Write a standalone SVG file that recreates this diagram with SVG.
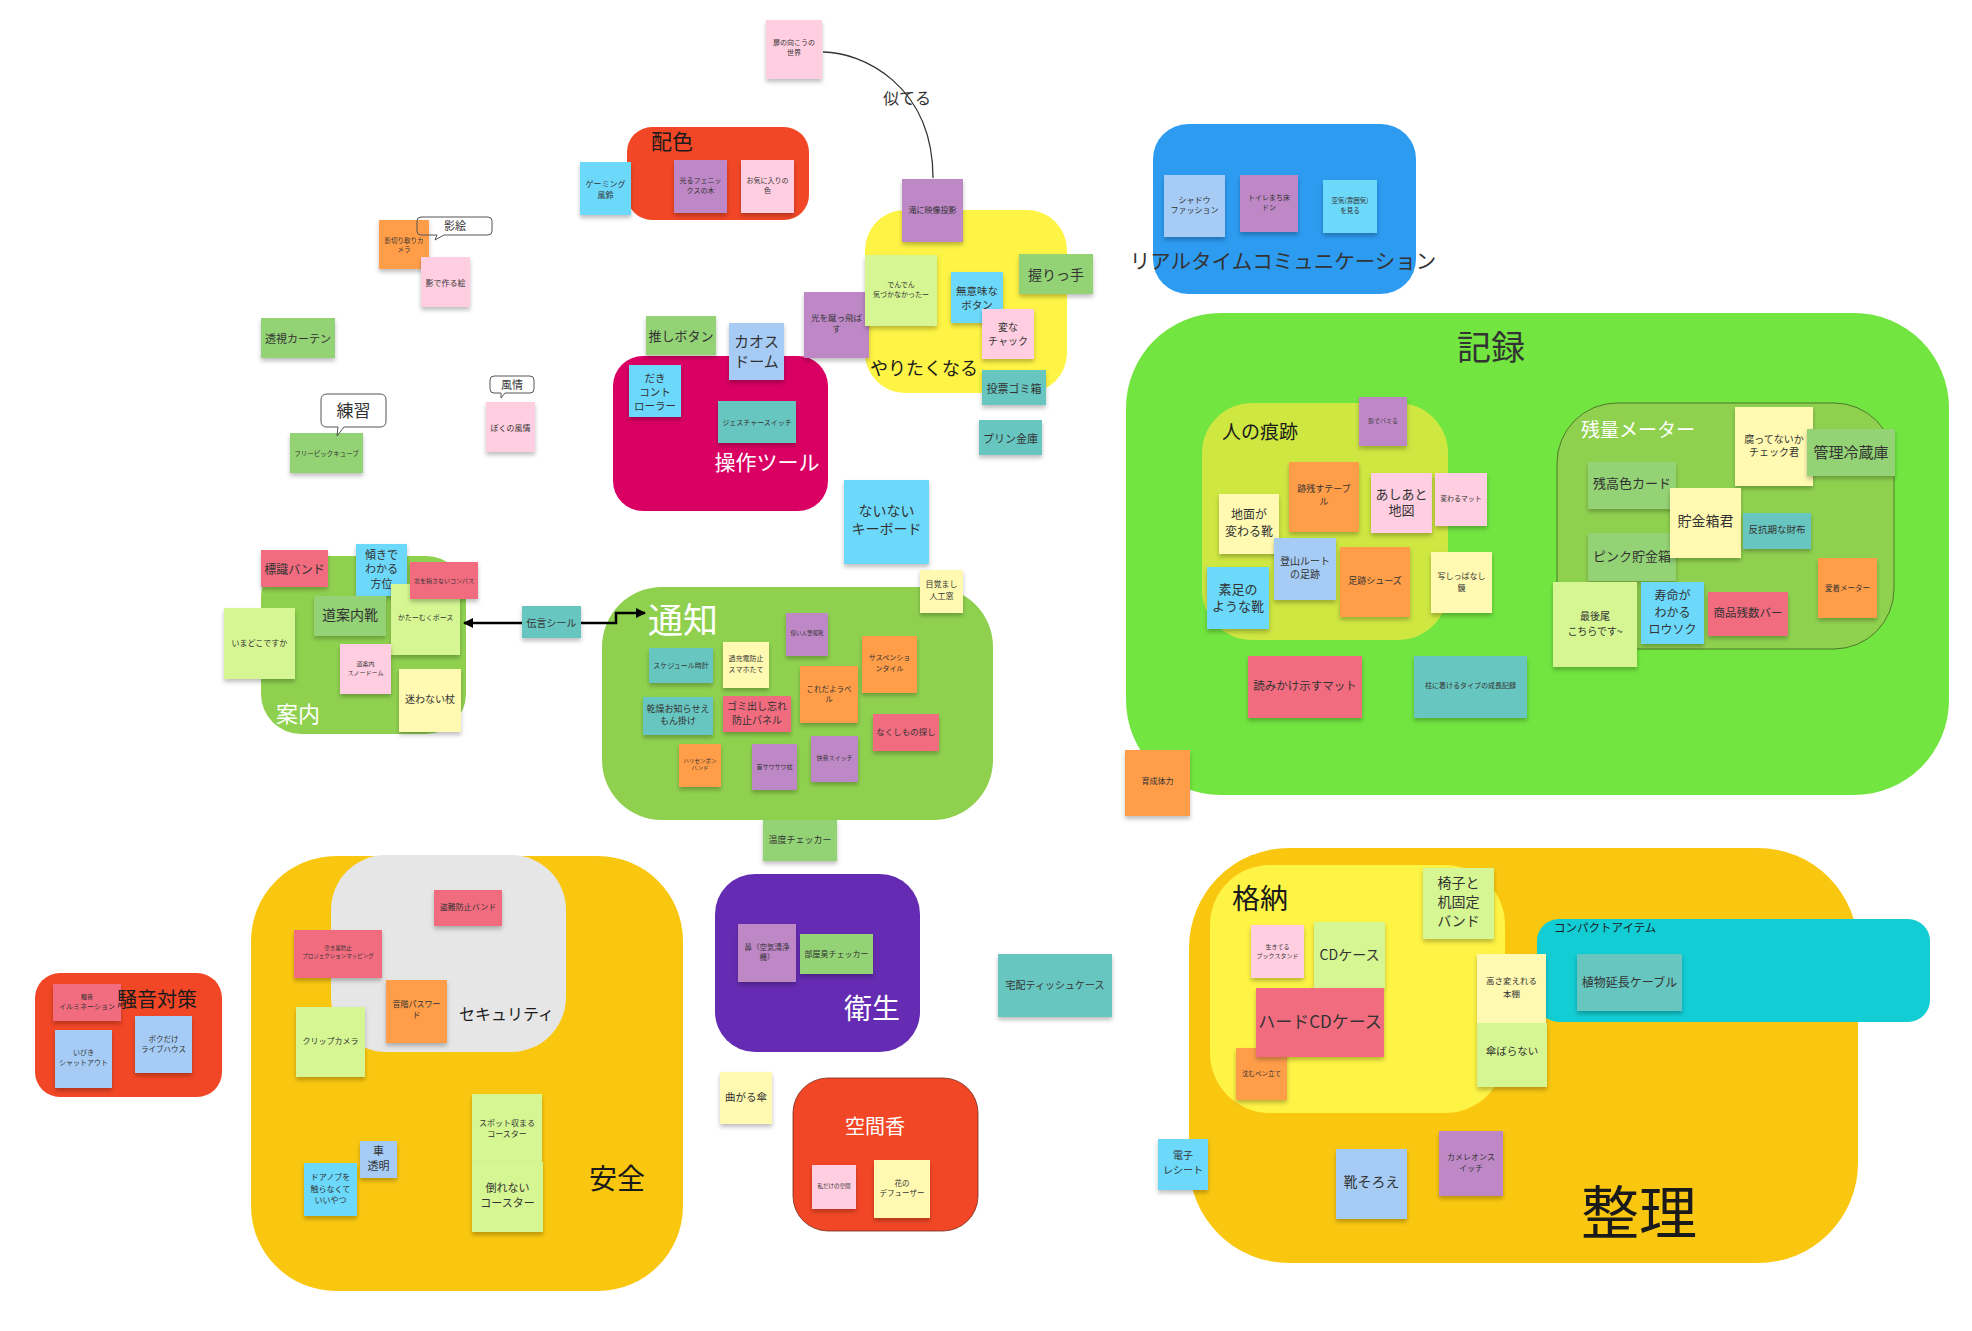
<svg xmlns="http://www.w3.org/2000/svg" width="1972" height="1331" viewBox="0 0 1972 1331">
<defs>
<filter id="sh" x="-15%" y="-15%" width="130%" height="140%"><feDropShadow dx="0" dy="3" stdDeviation="2" flood-color="#000" flood-opacity="0.25"/></filter>
<marker id="ah" viewBox="0 0 10 10" refX="9" refY="5" markerWidth="4" markerHeight="4" orient="auto-start-reverse"><path d="M0,0 L10,5 L0,10 z" fill="#000"/></marker>
<style>
text{font-family:"Noto Sans CJK JP","Noto Sans",sans-serif;text-anchor:middle;dominant-baseline:central;fill:#333}
.lbl{text-anchor:start;fill:#1a1a1a}
.wl{fill:#fff}
.s{filter:url(#sh)}
.ly{fill:#fff9b1}.lg{fill:#d5f692}.g{fill:#93d275}.tl{fill:#67c6c0}.b{fill:#6cd8fa}.lb{fill:#a6ccf5}.pk{fill:#ffcee0}.pu{fill:#be88c7}.o{fill:#ff9d48}.r{fill:#f16c7f}
.co{fill:none;stroke:#555;stroke-width:1}
.f55{font-size:5.5px}.f6{font-size:6px}.f65{font-size:6.5px}.f7{font-size:7px}.f75{font-size:7.5px}.f8{font-size:8px}.f85{font-size:8.5px}.f9{font-size:9px}.f95{font-size:9.5px}.f10{font-size:10px}.f105{font-size:10.5px}.f11{font-size:11px}.f115{font-size:11.5px}.f12{font-size:12px}.f13{font-size:13px}.f14{font-size:14px}.f15{font-size:15px}.f17{font-size:17px}
</style>
</defs>
<rect width="1972" height="1331" fill="#fff"/>

<g id="groups">
<g id="g-haishoku"><rect x="627" y="127" width="182" height="93" rx="25" fill="#f24726"/><text class="lbl" x="651" y="140" font-size="21">配色</text></g>
<g id="g-sousa"><rect x="613" y="356" width="215" height="155" rx="30" fill="#da0063"/><text class="wl" x="767" y="461" font-size="21">操作ツール</text></g>
<g id="g-yaritaku"><rect x="865" y="210" width="202" height="183" rx="40" fill="#fef445"/><text class="lbl" x="870" y="367" font-size="18">やりたくなる</text></g>
<g id="g-realtime"><rect x="1153" y="124" width="263" height="170" rx="35" fill="#2d9bf0"/><text x="1283" y="260" font-size="20.5" fill="#1a1a1a">リアルタイムコミュニケーション</text></g>
<g id="g-kiroku"><rect x="1126" y="313" width="823" height="482" rx="95" fill="#72e540"/><text x="1491" y="345" font-size="34" fill="#1a1a1a">記録</text></g>
<g id="g-hitono"><rect x="1202" y="403" width="246" height="237" rx="50" fill="#cee741"/><text class="lbl" x="1222" y="430" font-size="19">人の痕跡</text></g>
<g id="g-zanryou"><rect x="1557" y="403" width="337" height="246" rx="60" fill="#8fd14f" stroke="#4a7a2a" stroke-width="1"/><text class="wl" x="1581" y="428" font-size="19" style="text-anchor:start">残量メーター</text></g>
<g id="g-annai"><rect x="261" y="556" width="205" height="178" rx="40" fill="#8fd14f"/><text class="wl" x="276" y="712" font-size="22" style="text-anchor:start">案内</text></g>
<g id="g-tsuuchi"><rect x="602" y="587" width="391" height="233" rx="60" fill="#8fd14f"/><text class="wl" x="648" y="617" font-size="35" style="text-anchor:start">通知</text></g>
<g id="g-souon"><rect x="35" y="973" width="187" height="124" rx="25" fill="#f24726"/></g>
<g id="g-anzen"><rect x="251" y="856" width="432" height="435" rx="85" fill="#fac710"/><text class="lbl" x="589" y="1177" font-size="28">安全</text></g>
<g id="g-security"><rect x="331" y="855" width="235" height="197" rx="55" fill="#e6e6e6"/><text class="lbl" x="459" y="1013" font-size="16">セキュリティ</text></g>
<g id="g-eisei"><rect x="715" y="874" width="205" height="178" rx="40" fill="#652cb3"/><text class="wl" x="844" y="1007" font-size="28" style="text-anchor:start">衛生</text></g>
<g id="g-kuukan"><rect x="793" y="1078" width="185" height="153" rx="35" fill="#f24726" stroke="#7a2a1a" stroke-width="0.8"/><text class="wl" x="875" y="1125" font-size="20">空間香</text></g>
<g id="g-seiri"><rect x="1189" y="848" width="669" height="415" rx="100" fill="#fac710"/><text class="lbl" x="1581" y="1209" font-size="58">整理</text></g>
<g id="g-kakunou"><rect x="1210" y="865" width="295" height="248" rx="60" fill="#fef445"/><text class="lbl" x="1232" y="897" font-size="28">格納</text></g>
<g id="g-compact"><rect x="1537" y="919" width="393" height="103" rx="22" fill="#12cdd4"/><text class="lbl" x="1554" y="927" font-size="11.5">コンパクトアイテム</text></g>
</g>

<g id="notes">
<g id="n-gaming"><rect class="s b" x="580" y="162" width="51" height="53"/><text class="f8"><tspan x="605.5" y="183">ゲーミング</tspan><tspan x="605.5" y="194">風鈴</tspan></text></g>
<g id="n-kagekiri"><rect class="s o" x="379" y="220" width="50" height="49"/><text class="f65"><tspan x="404" y="240">影切り取りカ</tspan><tspan x="404" y="249">メラ</tspan></text></g>
<g id="n-kagee"><rect class="s pk" x="421" y="257" width="49" height="50"/><text class="f8" x="445.5" y="282">影で作る絵</text></g>
<g id="n-toushi"><rect class="s g" x="261" y="318" width="74" height="40"/><text class="f11" x="298" y="338">透視カーテン</text></g>
<g id="n-free"><rect class="s g" x="290" y="433" width="73" height="40"/><text class="f65" x="326.5" y="453">フリーピックキューブ</text></g>
<g id="n-bokuno"><rect class="s pk" x="486" y="402" width="49" height="50"/><text class="f8" x="510.5" y="427">ぼくの風情</text></g>
<g id="n-tobira"><rect class="s pk" x="766" y="20" width="56" height="59"/><text class="f7"><tspan x="794" y="42">扉の向こうの</tspan><tspan x="794" y="52">世界</tspan></text></g>
<g id="n-phoenix"><rect class="s pu" x="674" y="160" width="53" height="53"/><text class="f7"><tspan x="700.5" y="180">光るフェニッ</tspan><tspan x="700.5" y="190">クスの木</tspan></text></g>
<g id="n-okiniiri"><rect class="s pk" x="741" y="160" width="53" height="53"/><text class="f7"><tspan x="767.5" y="180">お気に入りの</tspan><tspan x="767.5" y="190">色</tspan></text></g>
<g id="n-taki"><rect class="s pu" x="902" y="179" width="61" height="63"/><text class="f8" x="932.5" y="209">滝に映像投影</text></g>
<g id="n-hikari"><rect class="s pu" x="804" y="292" width="65" height="66"/><text class="f85"><tspan x="836.5" y="317">光を蹴っ飛ば</tspan><tspan x="836.5" y="328">す</tspan></text></g>
<g id="n-denden"><rect class="s lg" x="865" y="255" width="72" height="71"/><text class="f7"><tspan x="901" y="284">でんでん</tspan><tspan x="901" y="294">気づかなかったー</tspan></text></g>
<g id="n-muimi"><rect class="s b" x="951" y="272" width="52" height="51"/><text class="f105"><tspan x="977" y="290">無意味な</tspan><tspan x="977" y="304">ボタン</tspan></text></g>
<g id="n-henna"><rect class="s pk" x="982" y="309" width="52" height="50"/><text class="f10"><tspan x="1008" y="326">変な</tspan><tspan x="1008" y="340">チャック</tspan></text></g>
<g id="n-nigiri"><rect class="s g" x="1019" y="254" width="74" height="40"/><text class="f14" x="1056" y="274">握りっ手</text></g>
<g id="n-touhyou"><rect class="s tl" x="982" y="370" width="64" height="35"/><text class="f11" x="1014" y="387.5">投票ゴミ箱</text></g>
<g id="n-purin"><rect class="s tl" x="979" y="420" width="63" height="35"/><text class="f11" x="1010.5" y="437.5">プリン金庫</text></g>
<g id="n-oshi"><rect class="s g" x="646" y="316" width="70" height="39"/><text class="f13" x="681" y="335.5">推しボタン</text></g>
<g id="n-daki"><rect class="s b" x="629" y="365" width="52" height="52"/><text class="f105"><tspan x="655" y="377">だき</tspan><tspan x="655" y="391">コント</tspan><tspan x="655" y="405">ローラー</tspan></text></g>
<g id="n-chaos"><rect class="s lb" x="729" y="323" width="55" height="57"/><text class="f15"><tspan x="756.5" y="340">カオス</tspan><tspan x="756.5" y="360">ドーム</tspan></text></g>
<g id="n-gesture"><rect class="s tl" x="718" y="401" width="78" height="42"/><text class="f7" x="757" y="422">ジェスチャースイッチ</text></g>
<g id="n-shadow"><rect class="s lb" x="1164" y="175" width="61" height="62"/><text class="f8"><tspan x="1194.5" y="199">シャドウ</tspan><tspan x="1194.5" y="209">ファッション</tspan></text></g>
<g id="n-toire"><rect class="s pu" x="1240" y="175" width="58" height="57"/><text class="f7"><tspan x="1269" y="197">トイレまち床</tspan><tspan x="1269" y="207">ドン</tspan></text></g>
<g id="n-kuuki"><rect class="s b" x="1323" y="180" width="54" height="53"/><text class="f65"><tspan x="1350" y="200">空気(雰囲気)</tspan><tspan x="1350" y="210">を見る</tspan></text></g>
<g id="n-nainai"><rect class="s b" x="844" y="480" width="85" height="84"/><text class="f14"><tspan x="886.5" y="510">ないない</tspan><tspan x="886.5" y="528">キーボード</tspan></text></g>

<g id="n-hyoushiki"><rect class="s r" x="261" y="550" width="67" height="37"/><text class="f12" x="294.5" y="568.5">標識バンド</text></g>
<g id="n-katamuki"><rect class="s b" x="356" y="544" width="51" height="52"/><text class="f11"><tspan x="381.5" y="554">傾きで</tspan><tspan x="381.5" y="568">わかる</tspan><tspan x="381.5" y="583">方位</tspan></text></g>
<g id="n-michi"><rect class="s g" x="314" y="596" width="72" height="40"/><text class="f14" x="350" y="614">道案内靴</text></g>
<g id="n-katamuku"><rect class="s lg" x="391" y="584" width="69" height="71"/><text class="f7" x="425.5" y="617">かたーむくポース</text></g>
<g id="n-kita"><rect class="s r" x="410" y="562" width="68" height="37"/><text class="f6" x="444" y="580">北を指さないコンパス</text></g>
<g id="n-imadoko"><rect class="s lg" x="224" y="608" width="71" height="71"/><text class="f8" x="259.5" y="642">いまどこですか</text></g>
<g id="n-yuki"><rect class="s pk" x="340" y="644" width="51" height="50"/><text class="f6"><tspan x="365.5" y="663">道案内</tspan><tspan x="365.5" y="672">スノードーム</tspan></text></g>
<g id="n-mayowanai"><rect class="s ly" x="399" y="669" width="62" height="63"/><text class="f10" x="430" y="698">迷わない杖</text></g>
<g id="n-dengon"><rect class="s tl" x="522" y="606" width="59" height="32"/><text class="f10" x="551.5" y="622">伝言シール</text></g>

<g id="n-mezamashi"><rect class="s ly" x="920" y="570" width="43" height="43"/><text class="f8"><tspan x="941.5" y="583">目覚まし</tspan><tspan x="941.5" y="595">人工窓</tspan></text></g>
<g id="n-schedule"><rect class="s tl" x="649" y="648" width="64" height="35"/><text class="f7" x="681" y="665">スケジュール時計</text></g>
<g id="n-kajuuden"><rect class="s ly" x="723" y="642" width="46" height="46"/><text class="f7"><tspan x="746" y="658">過充電防止</tspan><tspan x="746" y="669">スマホたて</tspan></text></g>
<g id="n-erai"><rect class="s pu" x="786" y="613" width="42" height="43"/><text class="f55" x="807" y="633">偉い人警報靴</text></g>
<g id="n-suspension"><rect class="s o" x="862" y="636" width="55" height="57"/><text class="f7"><tspan x="889.5" y="657">サスペンショ</tspan><tspan x="889.5" y="668">ンタイル</tspan></text></g>
<g id="n-koreda"><rect class="s o" x="800" y="666" width="58" height="57"/><text class="f75"><tspan x="829" y="688">これだよラベ</tspan><tspan x="829" y="698">ル</tspan></text></g>
<g id="n-kansou"><rect class="s tl" x="643" y="697" width="70" height="38"/><text class="f9"><tspan x="678" y="708">乾燥お知らせえ</tspan><tspan x="678" y="720">もん掛け</tspan></text></g>
<g id="n-gomi"><rect class="s r" x="723" y="696" width="68" height="36"/><text class="f10"><tspan x="757" y="705">ゴミ出し忘れ</tspan><tspan x="757" y="719">防止パネル</tspan></text></g>
<g id="n-nakushi"><rect class="s r" x="873" y="714" width="66" height="37"/><text class="f85" x="906" y="731">なくしもの探し</text></g>
<g id="n-harisen"><rect class="s o" x="679" y="744" width="42" height="43"/><text class="f55"><tspan x="700" y="761">ハリセンボン</tspan><tspan x="700" y="768">バンド</tspan></text></g>
<g id="n-kubi"><rect class="s pu" x="752" y="744" width="45" height="46"/><text class="f6" x="774.5" y="766">首サワサワ枕</text></g>
<g id="n-kaion"><rect class="s pu" x="811" y="736" width="47" height="46"/><text class="f6" x="834.5" y="757">快音スイッチ</text></g>
<g id="n-ondo"><rect class="s g" x="763" y="820" width="74" height="41"/><text class="f9" x="800" y="839">温度チェッカー</text></g>

<g id="n-kagebami"><rect class="s pu" x="1359" y="397" width="48" height="49"/><text class="f6" x="1383" y="420">影でバミる</text></g>
<g id="n-atonokosu"><rect class="s o" x="1289" y="462" width="70" height="70"/><text class="f9"><tspan x="1324" y="488">跡残すテーブ</tspan><tspan x="1324" y="501">ル</tspan></text></g>
<g id="n-ashiato"><rect class="s pk" x="1371" y="473" width="61" height="60"/><text class="f13"><tspan x="1401.5" y="493">あしあと</tspan><tspan x="1401.5" y="509">地図</tspan></text></g>
<g id="n-kawarumat"><rect class="s pk" x="1435" y="473" width="52" height="53"/><text class="f7" x="1461" y="498">変わるマット</text></g>
<g id="n-jimen"><rect class="s ly" x="1219" y="494" width="60" height="60"/><text class="f12"><tspan x="1249" y="513">地面が</tspan><tspan x="1249" y="530">変わる靴</tspan></text></g>
<g id="n-tozan"><rect class="s lb" x="1274" y="538" width="62" height="62"/><text class="f10"><tspan x="1305" y="560">登山ルート</tspan><tspan x="1305" y="573">の足跡</tspan></text></g>
<g id="n-ashiatoshoes"><rect class="s o" x="1340" y="547" width="70" height="70"/><text class="f9" x="1375" y="580">足跡シューズ</text></g>
<g id="n-utsushi"><rect class="s ly" x="1431" y="552" width="61" height="61"/><text class="f8"><tspan x="1461.5" y="575">写しっぱなし</tspan><tspan x="1461.5" y="587">鏡</tspan></text></g>
<g id="n-suashi"><rect class="s b" x="1207" y="567" width="62" height="62"/><text class="f13"><tspan x="1238" y="588">素足の</tspan><tspan x="1238" y="605">ような靴</tspan></text></g>

<g id="n-kusatte"><rect class="s ly" x="1735" y="407" width="78" height="79"/><text class="f10"><tspan x="1774" y="438">腐ってないか</tspan><tspan x="1774" y="451">チェック君</tspan></text></g>
<g id="n-kanri"><rect class="s g" x="1807" y="429" width="88" height="47"/><text class="f15" x="1851" y="451">管理冷蔵庫</text></g>
<g id="n-zandaka"><rect class="s g" x="1588" y="462" width="88" height="47"/><text class="f13" x="1632" y="482">残高色カード</text></g>
<g id="n-pink"><rect class="s g" x="1588" y="533" width="88" height="48"/><text class="f13" x="1632" y="555">ピンク貯金箱</text></g>
<g id="n-chokin"><rect class="s ly" x="1670" y="488" width="71" height="70"/><text class="f14" x="1705.5" y="520">貯金箱君</text></g>
<g id="n-hankouki"><rect class="s tl" x="1743" y="513" width="68" height="36"/><text class="f95" x="1777" y="529">反抗期な財布</text></g>
<g id="n-saikoubi"><rect class="s lg" x="1553" y="582" width="84" height="85"/><text class="f10"><tspan x="1595" y="615">最後尾</tspan><tspan x="1595" y="630">こちらです~</tspan></text></g>
<g id="n-jumyou"><rect class="s b" x="1641" y="582" width="63" height="62"/><text class="f12"><tspan x="1672.5" y="594">寿命が</tspan><tspan x="1672.5" y="611">わかる</tspan><tspan x="1672.5" y="628">ロウソク</tspan></text></g>
<g id="n-shouhin"><rect class="s r" x="1708" y="592" width="80" height="44"/><text class="f115" x="1748" y="612">商品残数バー</text></g>
<g id="n-aichaku"><rect class="s o" x="1818" y="558" width="59" height="60"/><text class="f75" x="1847.5" y="587">愛着メーター</text></g>
<g id="n-yomikake"><rect class="s r" x="1248" y="656" width="114" height="62"/><text class="f115" x="1305" y="685">読みかけ示すマット</text></g>
<g id="n-hashira"><rect class="s tl" x="1414" y="656" width="113" height="62"/><text class="f7" x="1470.5" y="685">柱に着けるタイプの成長記録</text></g>
<g id="n-ikusei"><rect class="s o" x="1125" y="750" width="65" height="66"/><text class="f8" x="1157.5" y="780">育成体力</text></g>

<g id="n-souon"><rect class="s r" x="53" y="984" width="68" height="37"/><text><tspan class="f6" x="87" y="996">騒音</tspan><tspan class="f7" x="87" y="1006">イルミネーション</tspan></text></g>
<g id="n-ibiki"><rect class="s lb" x="55" y="1030" width="57" height="58"/><text class="f7"><tspan x="83.5" y="1052">いびき</tspan><tspan x="83.5" y="1062">シャットアウト</tspan></text></g>
<g id="n-bokudake"><rect class="s lb" x="135" y="1016" width="57" height="57"/><text class="f75"><tspan x="163.5" y="1038">ボクだけ</tspan><tspan x="163.5" y="1048">ライブハウス</tspan></text></g>
<text class="lbl" x="117" y="998" font-size="20">騒音対策</text>

<g id="n-tounan"><rect class="s r" x="434" y="890" width="68" height="36"/><text class="f8" x="468" y="906">盗難防止バンド</text></g>
<g id="n-akisu"><rect class="s r" x="294" y="930" width="88" height="48"/><text class="f55"><tspan x="338" y="948">空き巣防止</tspan><tspan x="338" y="956">プロジェクションマッピング</tspan></text></g>
<g id="n-onkai"><rect class="s o" x="386" y="980" width="61" height="63"/><text class="f8"><tspan x="416.5" y="1003">音階パスワー</tspan><tspan x="416.5" y="1014">ド</tspan></text></g>
<g id="n-clip"><rect class="s lg" x="296" y="1007" width="69" height="70"/><text class="f8" x="330.5" y="1040">クリップカメラ</text></g>
<g id="n-spot"><rect class="s lg" x="472" y="1094" width="70" height="68"/><text class="f8"><tspan x="507" y="1122">スポット収まる</tspan><tspan x="507" y="1133">コースター</tspan></text></g>
<g id="n-taorenai"><rect class="s lg" x="472" y="1162" width="71" height="70"/><text class="f11"><tspan x="507.5" y="1187">倒れない</tspan><tspan x="507.5" y="1202">コースター</tspan></text></g>
<g id="n-kuruma"><rect class="s lb" x="360" y="1141" width="37" height="37"/><text class="f11"><tspan x="378.5" y="1150">車</tspan><tspan x="378.5" y="1165">透明</tspan></text></g>
<g id="n-doanobu"><rect class="s b" x="304" y="1163" width="53" height="53"/><text class="f8"><tspan x="330.5" y="1176">ドアノブを</tspan><tspan x="330.5" y="1188">触らなくて</tspan><tspan x="330.5" y="1199">いいやつ</tspan></text></g>

<g id="n-hana"><rect class="s pu" x="738" y="924" width="58" height="58"/><text class="f75"><tspan x="767" y="946">鼻（空気清浄</tspan><tspan x="767" y="956">機）</tspan></text></g>
<g id="n-heyashuu"><rect class="s g" x="800" y="934" width="73" height="40"/><text class="f8" x="836.5" y="953">部屋臭チェッカー</text></g>
<g id="n-takuhai"><rect class="s tl" x="998" y="954" width="114" height="63"/><text class="f10" x="1055" y="984">宅配ティッシュケース</text></g>
<g id="n-magaru"><rect class="s ly" x="720" y="1072" width="52" height="52"/><text class="f105" x="746" y="1096">曲がる傘</text></g>
<g id="n-watashi"><rect class="s pk" x="812" y="1165" width="44" height="44"/><text class="f55" x="834" y="1186">私だけの空間</text></g>
<g id="n-hanano"><rect class="s ly" x="874" y="1160" width="56" height="58"/><text class="f75"><tspan x="902" y="1182">花の</tspan><tspan x="902" y="1192">デフューザー</tspan></text></g>
<g id="n-denshi"><rect class="s b" x="1158" y="1139" width="50" height="51"/><text class="f10"><tspan x="1183" y="1154">電子</tspan><tspan x="1183" y="1169">レシート</tspan></text></g>

<g id="n-ikiteru"><rect class="s pk" x="1251" y="925" width="53" height="53"/><text class="f6"><tspan x="1277.5" y="946">生きてる</tspan><tspan x="1277.5" y="955">ブックスタンド</tspan></text></g>
<g id="n-cd"><rect class="s lg" x="1314" y="922" width="71" height="66"/><text class="f14" x="1349.5" y="954">CDケース</text></g>
<g id="n-shizumu"><rect class="s o" x="1236" y="1048" width="51" height="52"/><text class="f65" x="1261.5" y="1073">沈むペン立て</text></g>
<g id="n-hardcd"><rect class="s r" x="1256" y="988" width="128" height="69"/><text class="f17" x="1320" y="1020">ハードCDケース</text></g>
<g id="n-isu"><rect class="s lg" x="1423" y="868" width="71" height="71"/><text class="f14"><tspan x="1458.5" y="882">椅子と</tspan><tspan x="1458.5" y="901">机固定</tspan><tspan x="1458.5" y="920">バンド</tspan></text></g>
<g id="n-takasa"><rect class="s ly" x="1477" y="954" width="69" height="69"/><text class="f85"><tspan x="1511.5" y="980">高さ変えれる</tspan><tspan x="1511.5" y="993">本棚</tspan></text></g>
<g id="n-kasa"><rect class="s lg" x="1477" y="1023" width="70" height="64"/><text class="f105" x="1512" y="1050">傘ばらない</text></g>
<g id="n-shokubutsu"><rect class="s tl" x="1577" y="954" width="105" height="57"/><text class="f12" x="1629.5" y="981">植物延長ケーブル</text></g>
<g id="n-kutsu"><rect class="s lb" x="1336" y="1149" width="71" height="70"/><text class="f14" x="1371.5" y="1181">靴そろえ</text></g>
<g id="n-chameleon"><rect class="s pu" x="1439" y="1131" width="64" height="65"/><text class="f8"><tspan x="1471" y="1156">カメレオンス</tspan><tspan x="1471" y="1167">イッチ</tspan></text></g>
</g>

<g id="callouts">
<g id="c-kagee"><path class="co" d="M421,217 H488 Q492,217 492,221 V231 Q492,235 488,235 H444 L435,240 L437,235 H421 Q417,235 417,231 V221 Q417,217 421,217 Z"/><text x="455" y="225" font-size="11" fill="#444">影絵</text></g>
<g id="c-fuzei"><path class="co" d="M494,376 H530 Q534,376 534,380 V389 Q534,393 530,393 H505 L501,398 L501,393 H494 Q490,393 490,389 V380 Q490,376 494,376 Z"/><text x="512" y="384" font-size="11" fill="#444">風情</text></g>
<g id="c-renshu"><path class="co" d="M327,394 H380 Q386,394 386,400 V421 Q386,427 380,427 H344 L337,436 L338,427 H327 Q321,427 321,421 V400 Q321,394 327,394 Z" fill="#fff"/><text x="353.5" y="409" font-size="17" fill="#222">練習</text></g>
</g>

<g id="connectors">
<path d="M823,52 C862,52 933,85 933,178" fill="none" stroke="#333" stroke-width="1.3"/>
<text x="907" y="97" font-size="16" fill="#333">似てる</text>
<line x1="522" y1="623" x2="464" y2="623" stroke="#000" stroke-width="2.5" marker-end="url(#ah)"/>
<path d="M581,623 H616 V613 H645" fill="none" stroke="#000" stroke-width="2.5" marker-end="url(#ah)"/>
</g>
</svg>
